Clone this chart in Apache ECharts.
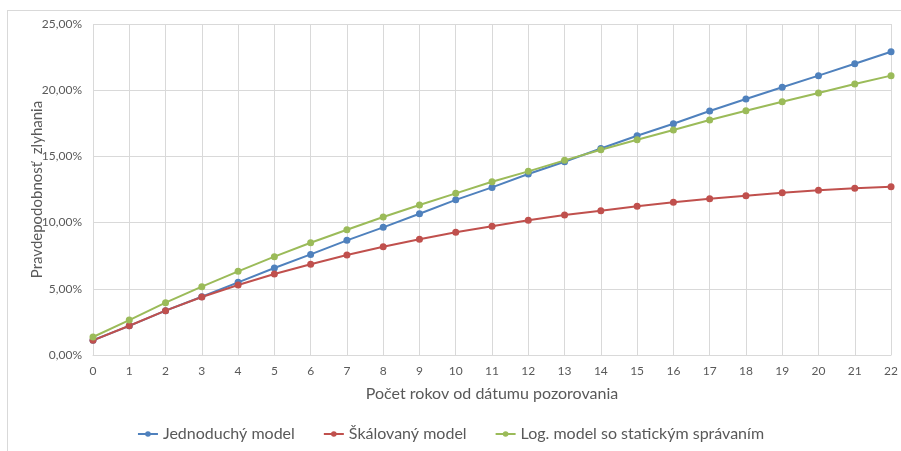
<!DOCTYPE html>
<html><head><meta charset="utf-8">
<script src="https://cdn.jsdelivr.net/npm/echarts@6/dist/echarts.min.js"></script>
<style>html,body{margin:0;padding:0;background:#fff}#c{width:901px;height:451px}</style>
</head><body><div id="c"></div>
<script>
const years = ['0','1','2','3','4','5','6','7','8','9','10','11','12','13','14','15','16','17','18','19','20','21','22'];
const simpleModel = [1.11,2.20,3.35,4.40,5.49,6.57,7.60,8.66,9.64,10.67,11.72,12.66,13.67,14.60,15.60,16.56,17.47,18.43,19.34,20.22,21.10,22.00,22.90];
const scaledModel = [1.11,2.21,3.35,4.38,5.29,6.12,6.85,7.55,8.18,8.74,9.27,9.72,10.17,10.57,10.90,11.23,11.53,11.80,12.03,12.26,12.44,12.59,12.71];
const logModel = [1.36,2.64,3.95,5.16,6.32,7.43,8.48,9.46,10.42,11.33,12.21,13.09,13.87,14.70,15.50,16.26,17.00,17.75,18.45,19.13,19.79,20.47,21.10];
const seriesNames = ['Jednoduchý model','Škálovaný model','Log. model so statickým správaním'];
const colors = ['#4f81bd','#c0504d','#9bbb59'];
const font = 'Lato, "Open Sans", sans-serif';

const chart = echarts.init(document.getElementById('c'), null, {renderer:'canvas'});
const mk = (name, data, color) => ({
  name, type:'line', data, color,
  symbol:'circle', symbolSize:7,
  lineStyle:{width:2, color}, itemStyle:{color},
  emphasis:{disabled:true}, animation:false
});
chart.setOption({
  animation:false,
  grid:{left:93, right:7, top:24, bottom:96, containLabel:false},
  graphic:[
    {type:'line', shape:{x1:7.5,y1:10,x2:7.5,y2:451}, style:{stroke:'#d9d9d9', lineWidth:1}},
    {type:'line', shape:{x1:7,y1:10.5,x2:901,y2:10.5}, style:{stroke:'#d9d9d9', lineWidth:1}}
  ],
  xAxis:{
    type:'category', data:years, boundaryGap:false,
    name:'Počet rokov od dátumu pozorovania', nameLocation:'middle', nameGap:31,
    nameTextStyle:{fontFamily:font, fontSize:16, color:'#595959'},
    axisLine:{lineStyle:{color:'#d9d9d9'}}, axisTick:{show:false},
    axisLabel:{fontFamily:font, fontSize:12, color:'#595959', margin:10, interval:0},
    splitLine:{show:true, lineStyle:{color:'#d9d9d9', width:1}}
  },
  yAxis:{
    type:'value', min:0, max:25, interval:5,
    name:'Pravdepodobnosť  zlyhania', nameLocation:'middle', nameGap:48, nameMoveOverlap:false,
    nameTextStyle:{fontFamily:font, fontSize:15, color:'#595959'},
    axisLine:{show:false}, axisTick:{show:false},
    axisLabel:{fontFamily:font, fontSize:12, color:'#595959', margin:11,
      formatter:v=>v.toFixed(2).replace('.',',')+'%'},
    splitLine:{lineStyle:{color:'#d9d9d9', width:1}}
  },
  legend:{
    bottom:4, left:'center', itemWidth:20, itemHeight:7, itemGap:28,
    textStyle:{fontFamily:font, fontSize:16, color:'#595959'},
    data:seriesNames
  },
  series:[
    mk(seriesNames[0], simpleModel, colors[0]),
    mk(seriesNames[1], scaledModel, colors[1]),
    mk(seriesNames[2], logModel, colors[2])
  ]
});
</script></body></html>
